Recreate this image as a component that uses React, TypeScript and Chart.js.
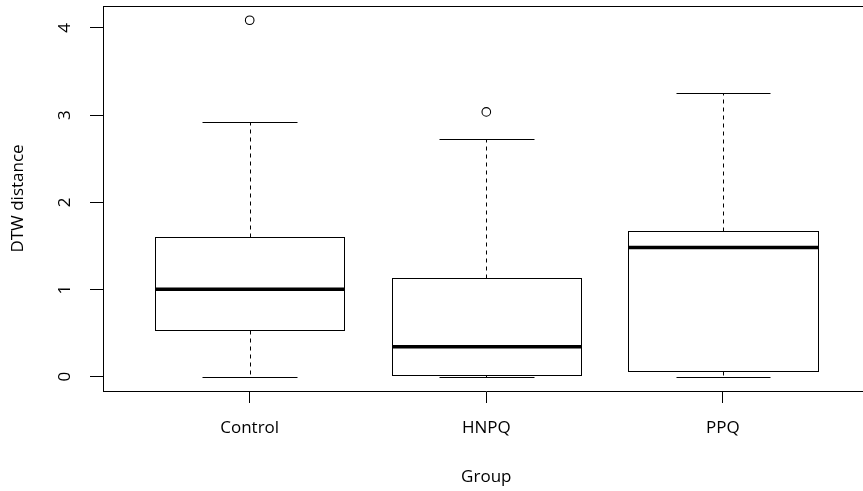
import React, { useEffect, useRef } from 'react';
import { Chart, registerables } from 'chart.js';

Chart.register(...registerables);

// ---- data ----
const categories = ['Control', 'HNPQ', 'PPQ'];
const whiskerLow = [0.0, 0.0, 0.0];
const quartile1 = [0.535, 0.023, 0.069];
const medians = [1.002, 0.344, 1.483];
const quartile3 = [1.598, 1.131, 1.67];
const whiskerHigh = [2.919, 2.721, 3.252];
const outlierGroups = [1, 2];
const outlierValues = [4.088, 3.037];
const yTicks = [0, 1, 2, 3, 4];
const xTitle = 'Group';
const yTitle = 'DTW distance';

const FONT = "'Open Sans', sans-serif";
const FONT_SIZE = 17;

const allVals = [...whiskerLow, ...whiskerHigh, ...outlierValues];
const dMin = Math.min(...allVals);
const dMax = Math.max(...allVals);
const yPad = (dMax - dMin) * 0.04;
const xPad = categories.length * 0.04;

const boxPlugin = {
  id: 'rBoxplot',
  beforeDatasetsDraw(chart: any) {
    const ctx = chart.ctx;
    const xs = chart.scales.x;
    const ys = chart.scales.y;
    const crisp = (v: number) => Math.round(v) + 0.5;
    ctx.save();
    categories.forEach((_, i) => {
      const c = i + 1;
      const xc = crisp(xs.getPixelForValue(c));
      const xl = crisp(xs.getPixelForValue(c - 0.4));
      const xr = crisp(xs.getPixelForValue(c + 0.4));
      const cl = crisp(xs.getPixelForValue(c - 0.2));
      const cr = crisp(xs.getPixelForValue(c + 0.2));
      const yLo = crisp(ys.getPixelForValue(whiskerLow[i]));
      const yQ1 = crisp(ys.getPixelForValue(quartile1[i]));
      const yMed = ys.getPixelForValue(medians[i]);
      const yQ3 = crisp(ys.getPixelForValue(quartile3[i]));
      const yHi = crisp(ys.getPixelForValue(whiskerHigh[i]));

      ctx.strokeStyle = '#000';
      ctx.lineWidth = 1;
      // dashed whiskers
      ctx.setLineDash([4, 4]);
      ctx.beginPath();
      ctx.moveTo(xc, yQ3);
      ctx.lineTo(xc, yHi);
      ctx.moveTo(xc, yQ1);
      ctx.lineTo(xc, yLo);
      ctx.stroke();
      ctx.setLineDash([]);
      // caps
      ctx.beginPath();
      ctx.moveTo(cl, yHi);
      ctx.lineTo(cr, yHi);
      ctx.moveTo(cl, yLo);
      ctx.lineTo(cr, yLo);
      ctx.stroke();
      // box
      ctx.fillStyle = '#fff';
      ctx.fillRect(xl, yQ3, xr - xl, yQ1 - yQ3);
      ctx.strokeRect(xl, yQ3, xr - xl, yQ1 - yQ3);
      // median
      ctx.lineWidth = 3.5;
      ctx.beginPath();
      ctx.moveTo(xl, yMed);
      ctx.lineTo(xr, yMed);
      ctx.stroke();
    });
    ctx.restore();
  },
  afterDraw(chart: any) {
    const ctx = chart.ctx;
    const a = chart.chartArea;
    ctx.save();
    ctx.strokeStyle = '#000';
    ctx.lineWidth = 1;
    ctx.beginPath();
    ctx.moveTo(Math.round(a.left), Math.round(a.top) + 0.5);
    ctx.lineTo(Math.round(a.right) + 1, Math.round(a.top) + 0.5);
    ctx.moveTo(Math.round(a.right) + 0.5, Math.round(a.top));
    ctx.lineTo(Math.round(a.right) + 0.5, Math.round(a.bottom));
    ctx.stroke();
    ctx.restore();
  },
};

const noPad = (s: any) => {
  s.paddingTop = 0;
  s.paddingBottom = 0;
  s.paddingLeft = 0;
  s.paddingRight = 0;
};

export default function App() {
  const ref = useRef<HTMLCanvasElement | null>(null);

  useEffect(() => {
    if (!ref.current) return;
    const chart = new Chart(ref.current, {
      type: 'scatter',
      data: {
        datasets: [
          {
            label: 'outliers',
            data: outlierGroups.map((g, i) => ({ x: g, y: outlierValues[i] })),
            pointRadius: 4.3,
            pointHoverRadius: 4.3,
            pointBackgroundColor: 'rgba(0,0,0,0)',
            pointBorderColor: '#000',
            pointBorderWidth: 1.1,
            showLine: false,
          },
        ],
      },
      options: {
        animation: false,
        responsive: false,
        devicePixelRatio: 1,
        layout: { padding: { top: 6, right: 1, left: 0, bottom: 0 } },
        plugins: {
          legend: { display: false },
          tooltip: { enabled: false },
        },
        scales: {
          x: {
            type: 'linear',
            min: 1 - 0.5 - xPad,
            max: categories.length + 0.5 + xPad,
            afterBuildTicks: (s: any) => {
              s.ticks = categories.map((_, i) => ({ value: i + 1 }));
            },
            afterFit: (s: any) => {
              s.height = 100;
              noPad(s);
            },
            ticks: {
              autoSkip: false,
              maxRotation: 0,
              minRotation: 0,
              padding: 15,
              color: '#000',
              font: { family: FONT, size: FONT_SIZE },
              callback: (v: any) => categories[Math.round(Number(v)) - 1] ?? '',
            },
            grid: {
              display: true,
              drawOnChartArea: false,
              drawTicks: true,
              tickLength: 12,
              color: '#000',
              lineWidth: 1,
            },
            border: { display: true, color: '#000', width: 1 },
            title: {
              display: true,
              text: xTitle,
              color: '#000',
              font: { family: FONT, size: FONT_SIZE },
              padding: { top: 4, bottom: 4 },
            },
          },
          y: {
            type: 'linear',
            min: dMin - yPad,
            max: dMax + yPad,
            afterBuildTicks: (s: any) => {
              s.ticks = yTicks.map((v) => ({ value: v }));
            },
            afterFit: (s: any) => {
              s.width = 103;
              noPad(s);
            },
            ticks: {
              autoSkip: false,
              minRotation: 90,
              maxRotation: 90,
              crossAlign: 'center',
              padding: 20,
              color: '#000',
              font: { family: FONT, size: FONT_SIZE },
              callback: (v: any) => String(v),
            },
            grid: {
              display: true,
              drawOnChartArea: false,
              drawTicks: true,
              tickLength: 13,
              color: '#000',
              lineWidth: 1,
            },
            border: { display: true, color: '#000', width: 1 },
            title: {
              display: true,
              text: yTitle,
              color: '#000',
              font: { family: FONT, size: FONT_SIZE },
              padding: { top: 8, bottom: 0 },
            },
          },
        },
      },
      plugins: [boxPlugin],
    });
    return () => chart.destroy();
  }, []);

  return (
    <div
      style={{
        position: 'fixed',
        left: 0,
        top: 0,
        width: 863,
        height: 491,
        overflow: 'hidden',
        background: '#fff',
      }}
    >
      <canvas ref={ref} width={875} height={491} style={{ display: 'block' }} />
    </div>
  );
}
